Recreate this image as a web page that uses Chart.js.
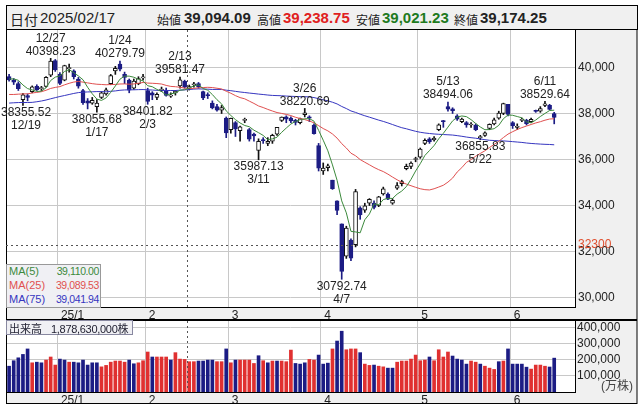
<!DOCTYPE html>
<html>
<head>
<meta charset="utf-8">
<script src="https://cdn.jsdelivr.net/npm/chart.js@4"></script>
<style>
  body { margin: 0; background: #fff; }
  #wrap { position: relative; width: 643px; height: 406px; overflow: hidden;
          font-family: "Liberation Sans", "Noto Sans CJK JP", sans-serif; color: #222; }
  #head { position: absolute; left: 6px; top: 5px; width: 630px; height: 23px;
          border: 1px solid #000; background: #f0f0f0; }
  #head span { position: absolute; top: 3px; white-space: nowrap; }
  #head .lbl { font-size: 12px; top: 5px; }
  .num { font-size: 15px; font-weight: bold; }
  canvas { position: absolute; left: 0; }
  #maBox { position: absolute; left: 6px; top: 264px; width: 93px; height: 42px;
           background: #f0f0f4; border: 1px solid #999; font-size: 11px; }
  #maBox div { position: absolute; left: 2px; width: 90px; height: 14px; white-space: nowrap; }
  #maBox b { font-weight: normal; position: absolute; right: 0; font-size: 10.5px;
             letter-spacing: -0.4px; }
  #volBox { position: absolute; left: 6px; top: 320px; width: 125px; height: 13px;
            background: #f0f0f4; border: 1px solid #8888a0; font-size: 11px; color: #223;
            white-space: nowrap; }
</style>
</head>
<body>
<div id="wrap">
  <div id="head"></div>
  <canvas id="pc" width="643" height="291" style="top:29px"></canvas>
  <canvas id="vc" width="643" height="86" style="top:320px"></canvas>
  <div id="maBox"></div>
  <div id="volBox"></div>
</div>
<script>
// 日付
const dates = ['12/16','12/17','12/18','12/19','12/20','12/23','12/24','12/25','12/26','12/27','12/30',
  '1/6','1/7','1/8','1/9','1/10','1/14','1/15','1/16','1/17','1/20','1/21','1/22','1/23','1/24','1/27','1/28','1/29','1/30','1/31',
  '2/3','2/4','2/5','2/6','2/7','2/10','2/12','2/13','2/14','2/17','2/18','2/19','2/20','2/21','2/25','2/26','2/27','2/28',
  '3/3','3/4','3/5','3/6','3/7','3/10','3/11','3/12','3/13','3/14','3/17','3/18','3/19','3/21','3/24','3/25','3/26','3/27','3/28','3/31',
  '4/1','4/2','4/3','4/4','4/7','4/8','4/9','4/10','4/11','4/14','4/15','4/16','4/17','4/18','4/21','4/22','4/23','4/24','4/25','4/28','4/30',
  '5/1','5/2','5/7','5/8','5/9','5/12','5/13','5/14','5/15','5/16','5/19','5/20','5/21','5/22','5/23','5/26','5/27','5/28','5/29','5/30',
  '6/2','6/3','6/4','6/5','6/6','6/9','6/10','6/11','6/12','6/13'];

const opens = [39600,39450,39300,38600,38780,38950,39180,39080,39180,39670,40300,
  39700,39450,39950,39850,39500,39000,38550,38450,38300,38700,38850,39300,39850,40150,39700,39450,39100,39300,39550,
  39000,38900,38700,39000,39000,38750,38900,39200,39400,39094.09,39250,39300,38950,38800,38450,38300,38150,37800,
  37300,37600,37250,37700,37300,37100,36400,36850,36700,36800,37100,37700,37850,37800,37700,37600,37950,37850,37500,36600,
  35500,35650,35100,34200,33200,31800,32500,32300,33900,33800,34100,34100,34000,34500,34500,34100,34750,34950,35600,35700,36000,
  36100,36700,36900,36850,37300,37650,38300,38200,37900,37650,37600,37500,37500,36950,37050,37350,37550,37800,38000,38400,
  37600,37400,37700,37700,37650,38100,38100,38350,38350,38000];
const highs = [39700,39520,39380,38880,38850,39200,39250,39180,39600,40398.23,40350,
  39780,40100,40150,39900,39570,39050,38650,38700,38600,38950,39100,39700,40050,40279.79,39800,39500,39500,39600,39700,
  39100,38950,38900,39150,39100,38900,39000,39581.47,39450,39238.75,39350,39350,38980,38900,38550,38400,38350,37850,
  37800,37650,37450,37800,37350,37150,36900,36950,36950,37100,37400,37850,37900,37850,37750,37800,38220.69,37900,37550,36700,
  35850,35800,35100,34200,33200,33100,32550,34700,33950,34100,34300,34200,34400,34800,34550,34300,35000,35100,35800,35900,36100,
  36500,36900,36950,37000,37550,37700,38494.06,38250,37950,37800,37650,37600,37550,37050,37200,37550,37800,38100,38450,38400,
  37650,37550,37800,37750,37800,38150,38300,38529.64,38400,38050];
const lows = [39410,39260,39000,38355.52,38550,38900,39000,39000,39150,39600,39830,
  39250,39420,39800,39500,39100,38400,38200,38400,38055.68,38650,38800,39250,39700,39850,39300,38900,39050,39250,39450,
  38401.82,38600,38600,38950,38750,38700,38800,39100,39100,39021.23,39150,39100,38600,38650,38200,38100,38000,36950,
  37150,37000,36800,37600,36800,36800,35987.13,36700,36600,36700,37050,37650,37600,37600,37500,37550,37850,37650,37100,35500,
  35350,35500,34700,33600,30792.74,31700,31600,32200,33400,33700,34000,33850,33950,34450,34250,34050,34700,34850,35550,35600,35900,
  36050,36650,36700,36800,37250,37400,38100,38000,37700,37600,37400,37400,37250,36855.83,37000,37300,37500,37750,37950,37900,
  37350,37300,37650,37500,37600,38050,38050,38300,38150,37550];
const closes = [39457,39365,39082,38814,38702,39161,39037,39130,39568,40281,39895,
  39307,40083,39981,39605,39190,38474,38445,38572,38451,38902,39027,39646,39959,39931,39566,39016,39414,39514,39572,
  38520,38798,38831,39066,38787,38801,38964,39461,39149,39174.25,39270,39164,38678,38777,38238,38142,38256,37155,
  37785,37331,37418,37705,36887,37029,36793,36820,36790,37053,37396,37845,37751,37677,37608,37780,38027,37800,37120,35618,
  35625,35726,34736,33781,31137,33013,31715,34610,33586,33983,34268,33920,34377,34730,34280,34221,34869,35040,35706,35840,36045,
  36452,36831,36780,36929,37504,37644,38183,38128,37756,37754,37499,37530,37299,36986,37160,37532,37724,38022,38433,37965,
  37471,37447,37747,37555,37742,38089,38212,38421,38174,37834];

// 移動平均
const ma5 = [39503,39503,39445,39238,39084,39025,38959,38969,39120,39435,
  39582,39636,39827,39909,39774,39633,39467,39139,38857,38626,
  38569,38679,38920,39197,39493,39626,39624,39577,39488,39416,
  39207,39164,39047,38957,38800,38857,38890,39016,39032,39110,
  39204,39244,39087,39013,38825,38600,38418,38114,37915,37734,
  37589,37479,37425,37274,37166,37047,36864,36897,36970,37181,
  37367,37544,37655,37732,37769,37778,37667,37269,36838,36378,
  35765,35097,34201,33679,32876,32851,32812,33381,33632,34073,
  34027,34256,34315,34306,34495,34628,34823,35135,35500,35817,
  36175,36390,36607,36899,37138,37408,37678,37843,37893,37864,
  37733,37568,37414,37295,37301,37340,37485,37774,37935,37923,
  37868,37813,37637,37593,37716,37869,38004,38128,38146];
const ma25 = [38827,38827,38841,38852,38855,38892,38917,38948,39010,39090,
  39135,39169,39247,39312,39368,39395,39364,39331,39298,39273,
  39262,39249,39260,39264,39283,39287,39273,39286,39314,39349,
  39323,39314,39302,39282,39222,39178,39165,39140,39106,39089,
  39092,39120,39129,39138,39129,39099,39068,38968,38881,38777,
  38691,38639,38538,38438,38327,38259,38179,38108,38041,38003,
  37961,37910,37836,37781,37735,37676,37594,37472,37346,37245,
  37109,36930,36690,36499,36274,36162,35997,35881,35770,35655,
  35558,35475,35364,35237,35118,35010,34931,34860,34791,34728,
  34689,34676,34728,34803,34880,35018,35192,35456,35646,35877,
  35994,36143,36263,36379,36523,36657,36789,36955,37104,37209,
  37305,37386,37455,37523,37588,37644,37709,37759,37772];
const ma75 = [38453,38466,38476,38478,38478,38484,38511,38544,38586,38640,
  38690,38739,38782,38827,38872,38909,38927,38937,38945,38953,
  38953,38942,38965,38982,39010,39024,39029,39030,39038,39042,
  39031,39020,39006,39004,39002,39000,39000,39014,39028,39042,
  39061,39069,39064,39058,39046,39047,39045,39014,38992,38963,
  38935,38913,38888,38868,38844,38825,38803,38786,38778,38772,
  38758,38748,38741,38733,38731,38721,38693,38644,38594,38549,
  38490,38416,38306,38215,38111,38047,37970,37902,37841,37777,
  37713,37656,37591,37520,37448,37383,37335,37279,37226,37184,
  37153,37130,37110,37096,37085,37075,37063,37038,37009,36976,
  36949,36926,36894,36862,36835,36825,36814,36809,36794,36777,
  36759,36742,36717,36698,36684,36670,36660,36653,36640];
const maNames = ['MA(5)', 'MA(25)', 'MA(75)'];
const maNow = [39110.00, 39089.53, 39041.94];

// 出来高（万株）
const volumes = [160000,194000,212000,233000,267000,181000,185000,181000,198000,217000,167000,
  204000,198000,185000,185000,181000,198000,167000,181000,181000,156000,165000,185000,192000,192000,185000,198000,175000,181000,194000,
  248000,217000,217000,217000,217000,198000,244000,204000,202000,187863,188000,192000,192000,198000,198000,188000,188000,267000,
  181000,198000,198000,198000,198000,177000,225000,194000,181000,192000,192000,192000,188000,260000,177000,173000,181000,202000,198000,229000,
  173000,179000,267000,316000,377000,262000,267000,267000,244000,173000,165000,167000,160000,156000,148000,148000,185000,192000,192000,204000,229000,
  194000,198000,217000,194000,262000,217000,248000,223000,204000,198000,173000,192000,185000,173000,160000,148000,140000,188000,192000,267000,
  173000,173000,173000,154000,142000,167000,167000,160000,155000,210000];
const volUp = 'dddddudduuuddudddddduuuuuudduuuduuuduuuuudddduududuuuudududuuuddduudddudduuuduuduudduuuuuuuduuuudddduuduuududdddduuuuddd';

const monthStart = [11, 30, 48, 68, 89, 109];
const monthLabels = ['25/1', '2', '3', '4', '5', '6'];
const priceTicks = [30000, 32000, 34000, 36000, 38000, 40000];
const volTicks = [100000, 200000, 300000, 400000];

const marks = [3, 9, 19, 24, 30, 37, 54, 64, 72, 95, 102, 116];
const markKind = ['low','high','low','high','low','high','low','high','low','high','low','high'];

const cursorIndex = 39;
const cursorPrice = 32300;
const headDate = '2025/02/17';

const NAVY = '#1c1c84';
const RED = '#e03030';
const MA_COLORS = ['#3c8a3c', '#e05050', '#3636c0'];
const GRID = '#c8c8c8';
const FONT = '"Liberation Sans", "Noto Sans CJK JP", sans-serif';

const fmt = v => v.toLocaleString('en-US', { minimumFractionDigits: 2, maximumFractionDigits: 2 });

// ヘッダー
const head = document.getElementById('head');
const ci = cursorIndex;
const parts = [
  ['lbl', 3, '日付', 'font-size:14px;top:3px'], ['', 33, headDate, 'font-size:15px'],
  ['lbl', 150, '始値'], ['num', 177, fmt(opens[ci])],
  ['lbl', 250, '高値'], ['num', 276, fmt(highs[ci]), 'color:#e02020'],
  ['lbl', 349, '安値'], ['num', 375, fmt(lows[ci]), 'color:#1e7a1e'],
  ['lbl', 447, '終値'], ['num', 473, fmt(closes[ci])]
];
parts.forEach(p => {
  const s = document.createElement('span');
  s.className = p[0];
  s.style.cssText = 'left:' + p[1] + 'px;' + (p[3] || '');
  s.textContent = p[2];
  head.appendChild(s);
});

const maBox = document.getElementById('maBox');
maNames.forEach((n, k) => {
  const d = document.createElement('div');
  d.style.top = (k * 14) + 'px';
  d.style.color = MA_COLORS[k];
  d.innerHTML = n + '<b>' + fmt(maNow[k]) + '</b>';
  maBox.appendChild(d);
});
document.getElementById('volBox').innerHTML =
  '<span style="position:absolute;left:2px;top:-1px">出来高</span>' +
  '<span style="position:absolute;left:44px;top:-1px;letter-spacing:-0.3px">' +
  (volumes[ci] * 10000).toLocaleString('en-US') + '株</span>';

const X_MIN = -0.67, X_MAX = 122.5;

// ラベルによる余白を消す
function noPad(s) {
  s.paddingTop = 0; s.paddingBottom = 0; s.paddingLeft = 0; s.paddingRight = 0;
}

function xAxis() {
  return {
    type: 'linear', min: X_MIN, max: X_MAX, offset: false,
    afterBuildTicks: s => { s.ticks = monthStart.map(v => ({ value: v - 0.5 })); },
    afterFit: s => { s.height = s.chart.canvas.id === 'pc' ? 13 : 12; noPad(s); },
    grid: { color: GRID, drawTicks: false, offset: false },
    border: { display: false },
    ticks: { align: 'start', padding: 1, maxRotation: 0, autoSkip: false, color: '#222',
             font: { family: FONT, size: 12 },
             callback: (v, i) => ' ' + monthLabels[i] }
  };
}

// 枠と背景
const framePlugin = {
  id: 'frame',
  beforeDraw(chart) {
    const { ctx, chartArea: a } = chart;
    const band = chart.scales.x.height;
    ctx.save();
    ctx.fillStyle = '#f0f0f0';
    ctx.fillRect(a.left, a.bottom, 637 - a.left, band);
    ctx.fillRect(a.right, a.top, 637 - a.right, a.bottom - a.top);
    ctx.fillStyle = '#fff';
    ctx.fillRect(a.left, a.top, a.right - a.left, a.bottom - a.top);
    ctx.restore();
  },
  afterDraw(chart) {
    const { ctx, chartArea: a } = chart;
    const band = chart.scales.x.height;
    const x = chart.scales.x;
    ctx.save();
    ctx.strokeStyle = '#000';
    ctx.lineWidth = 1;
    ctx.strokeRect(a.left + 0.5, a.top + 0.5, a.right - a.left, a.bottom - a.top);
    ctx.strokeRect(a.left + 0.5, a.top + 0.5, 636.5 - a.left, a.bottom - a.top + band - 1);
    // カーソル
    ctx.setLineDash([2, 3]);
    ctx.strokeStyle = '#555';
    const cx = Math.round(x.getPixelForValue(cursorIndex - 0.5)) + 0.5;
    ctx.beginPath();
    ctx.moveTo(cx, a.top + 1);
    ctx.lineTo(cx, a.bottom);
    ctx.stroke();
    if (chart.canvas.id === 'pc') {
      const cy = Math.round(chart.scales.y.getPixelForValue(cursorPrice)) + 0.5;
      ctx.beginPath();
      ctx.moveTo(a.left, cy);
      ctx.lineTo(a.right, cy);
      ctx.stroke();
      ctx.setLineDash([]);
      ctx.font = '12px ' + FONT;
      ctx.fillStyle = '#e05030';
      ctx.textBaseline = 'middle';
      ctx.textAlign = 'left';
      ctx.fillText(String(cursorPrice), a.right + 3, cy - 1);
      // 高値・安値
      ctx.fillStyle = '#222';
      ctx.textAlign = 'center';
      marks.forEach((idx, k) => {
        const isHigh = markKind[k] === 'high';
        const val = isHigh ? highs[idx] : lows[idx];
        const vy = chart.scales.y.getPixelForValue(val);
        let px = x.getPixelForValue(idx);
        const txt = val.toFixed(2);
        const w = ctx.measureText(txt).width;
        px = Math.max(px, w / 2 + 1);
        if (isHigh) {
          ctx.fillText(txt, px, vy - 7);
          ctx.fillText(dates[idx], px, vy - 20);
        } else {
          ctx.fillText(txt, px, vy + 7);
          ctx.fillText(dates[idx], px, vy + 20);
        }
      });
    } else {
      ctx.setLineDash([]);
      ctx.font = '12px ' + FONT;
      ctx.fillStyle = '#444';
      ctx.textAlign = 'right';
      ctx.textBaseline = 'middle';
      ctx.fillText('(万株)', 633, a.bottom - 5);
    }
    ctx.restore();
  }
};

const idx = dates.map((d, i) => i);
const isUp = i => closes[i] >= opens[i];

new Chart(document.getElementById('pc'), {
  data: {
    datasets: [
      ...[ma5, ma25, ma75].map((m, k) => ({
        type: 'line', label: maNames[k], data: idx.map(i => ({ x: i, y: m[i] })),
        borderColor: MA_COLORS[k], borderWidth: 1, pointRadius: 0, tension: 0, order: 0
      })),
      {
        type: 'bar', label: 'body', data: idx.map(i => ({ x: i, y: [opens[i], closes[i]] })),
        backgroundColor: idx.map(i => isUp(i) ? '#fff' : NAVY),
        borderColor: idx.map(i => isUp(i) ? '#111' : NAVY),
        borderWidth: 1, borderSkipped: false, barThickness: 4, minBarLength: 1, grouped: false, order: 1
      },
      {
        type: 'bar', label: 'wick', data: idx.map(i => ({ x: i, y: [lows[i], highs[i]] })),
        backgroundColor: idx.map(i => isUp(i) ? '#111' : NAVY),
        borderWidth: 0, barThickness: 1, grouped: false, order: 2
      }
    ]
  },
  options: {
    responsive: false, animation: false, devicePixelRatio: 1,
    layout: { padding: { left: 6, right: 6, top: 0, bottom: 0 } },
    plugins: { legend: { display: false }, tooltip: { enabled: false } },
    scales: {
      x: xAxis(),
      y: {
        position: 'right', min: 29587, max: 41674,
        afterBuildTicks: s => { s.ticks = priceTicks.map(v => ({ value: v })); },
        afterFit: s => { s.width = 62; noPad(s); },
        grid: { color: GRID, drawTicks: false },
        border: { display: false },
        ticks: { padding: 3, color: '#222', font: { family: FONT, size: 12 } }
      }
    }
  },
  plugins: [framePlugin]
});

new Chart(document.getElementById('vc'), {
  type: 'bar',
  data: {
    datasets: [{
      label: '出来高', data: idx.map(i => ({ x: i, y: volumes[i] })),
      backgroundColor: idx.map(i => volUp[i] === 'u' ? RED : NAVY),
      borderWidth: 0, barThickness: 3, grouped: false
    }]
  },
  options: {
    responsive: false, animation: false, devicePixelRatio: 1,
    layout: { padding: { left: 6, right: 6, top: 0, bottom: 2 } },
    plugins: { legend: { display: false }, tooltip: { enabled: false } },
    scales: {
      x: xAxis(),
      y: {
        position: 'right', min: 0, max: 446500,
        afterBuildTicks: s => { s.ticks = volTicks.map(v => ({ value: v })); },
        afterFit: s => { s.width = 62; noPad(s); },
        grid: { color: GRID, drawTicks: false },
        border: { display: false },
        ticks: { padding: 2, color: '#222', font: { family: FONT, size: 12 } }
      }
    }
  },
  plugins: [framePlugin]
});
</script>
</body>
</html>
